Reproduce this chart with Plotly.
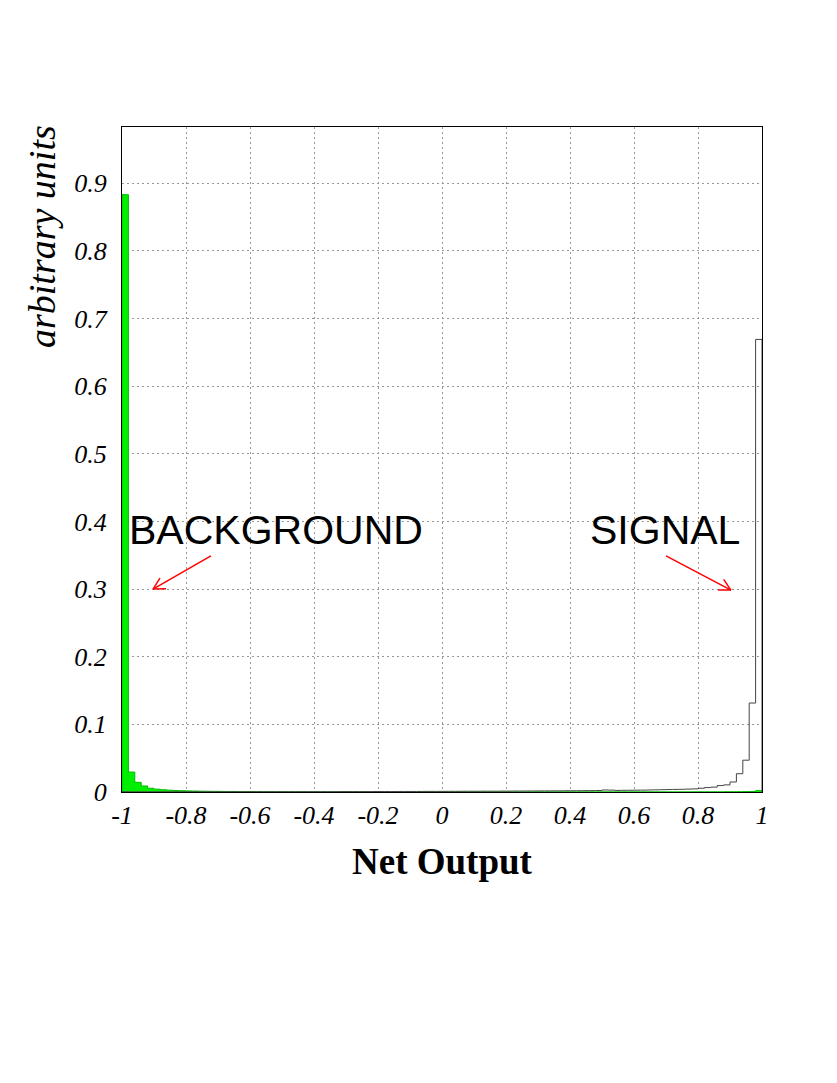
import math
import plotly.graph_objects as go

# ---- data (100 bins of width 0.02 on [-1, 1]) ----
bin_low = -1.0
bin_width = 0.02
background = [
    0.883, 0.0295, 0.0143, 0.0089, 0.0055, 0.0042, 0.0033, 0.0027, 0.0022, 0.0019,
    0.0016, 0.0014, 0.0012, 0.0011, 0.0010, 0.0009, 0.0008, 0.0008, 0.0007, 0.0007,
    0.0006, 0.0006, 0.0005, 0.0005, 0.0005, 0.0004, 0.0004, 0.0004, 0.0004, 0.0003,
    0.0003, 0.0003, 0.0003, 0.0003, 0.0003, 0.0003, 0.0002, 0.0002, 0.0002, 0.0002,
    0.0002, 0.0002, 0.0002, 0.0002, 0.0002, 0.0002, 0.0002, 0.0002, 0.0002, 0.0002,
    0.0002, 0.0002, 0.0002, 0.0002, 0.0002, 0.0002, 0.0002, 0.0002, 0.0002, 0.0002,
    0.0002, 0.0002, 0.0002, 0.0002, 0.0002, 0.0002, 0.0002, 0.0002, 0.0002, 0.0002,
    0.0002, 0.0002, 0.0002, 0.0002, 0.0002, 0.0002, 0.0002, 0.0002, 0.0002, 0.0002,
    0.0002, 0.0002, 0.0002, 0.0002, 0.0002, 0.0002, 0.0002, 0.0002, 0.0002, 0.0003,
    0.0003, 0.0003, 0.0003, 0.0003, 0.0004, 0.0004, 0.0005, 0.0006, 0.0008, 0.0020,
]
signal = [
    0.0004, 0.0003, 0.0003, 0.0003, 0.0003, 0.0003, 0.0003, 0.0003, 0.0003, 0.0003,
    0.0003, 0.0003, 0.0003, 0.0003, 0.0003, 0.0003, 0.0003, 0.0003, 0.0003, 0.0003,
    0.0004, 0.0004, 0.0004, 0.0004, 0.0004, 0.0004, 0.0004, 0.0004, 0.0005, 0.0005,
    0.0005, 0.0005, 0.0005, 0.0005, 0.0006, 0.0006, 0.0006, 0.0006, 0.0006, 0.0007,
    0.0007, 0.0007, 0.0007, 0.0008, 0.0008, 0.0008, 0.0008, 0.0009, 0.0009, 0.0009,
    0.0010, 0.0010, 0.0010, 0.0011, 0.0011, 0.0011, 0.0012, 0.0012, 0.0012, 0.0013,
    0.0013, 0.0014, 0.0014, 0.0015, 0.0015, 0.0016, 0.0016, 0.0017, 0.0017, 0.0018,
    0.0018, 0.0019, 0.0020, 0.0021, 0.0022, 0.0030, 0.0028, 0.0024, 0.0025, 0.0026,
    0.0027, 0.0028, 0.0030, 0.0032, 0.0034, 0.0036, 0.0038, 0.0040, 0.0043, 0.0046,
    0.0055, 0.0065, 0.0072, 0.0095, 0.0105, 0.0148, 0.0270, 0.0470, 0.1315, 0.6690,
]
x_tickvals = [-1, -0.8, -0.6, -0.4, -0.2, 0, 0.2, 0.4, 0.6, 0.8, 1]
x_ticktext = ["-1", "-0.8", "-0.6", "-0.4", "-0.2", "0", "0.2", "0.4", "0.6", "0.8", "1"]
y_tickvals = [0, 0.1, 0.2, 0.3, 0.4, 0.5, 0.6, 0.7, 0.8, 0.9]
y_ticktext = ["0", "0.1", "0.2", "0.3", "0.4", "0.5", "0.6", "0.7", "0.8", "0.9"]
labels = ["BACKGROUND", "SIGNAL"]

X_RANGE = [-1, 1]
Y_RANGE = [0, 0.983]

edges = [bin_low + bin_width * i for i in range(len(background) + 1)]


def step_xy(vals):
    xs = [edges[0]] + edges[:-1] + [edges[-1], edges[-1]]
    ys = [0] + list(vals) + [vals[-1], 0]
    return xs, ys


fig = go.Figure()
bx, by = step_xy(background)
fig.add_trace(go.Scatter(x=bx, y=by, mode="lines", line_shape="hv",
                         fill="tozeroy", fillcolor="#00ee00",
                         line=dict(color="#00bb00", width=1), hoverinfo="skip"))
sx, sy = step_xy(signal)
fig.add_trace(go.Scatter(x=sx, y=sy, mode="lines", line_shape="hv",
                         line=dict(color="#444444", width=1), hoverinfo="skip"))

# page body has an 8px margin, so the figure is offset by 8px
OFF = 8
W, H = 837 - OFF, 1083 - OFF
ML, MT = 122 - OFF, 127 - OFF
pw, ph = 640, 665
MR, MB = W - ML - pw, H - MT - ph
sxp = pw / (X_RANGE[1] - X_RANGE[0])
syp = ph / (Y_RANGE[1] - Y_RANGE[0])

# arrows (tail -> tip) in data coordinates
arrows = [((-0.722, 0.349), (-0.903, 0.300)), ((0.700, 0.349), (0.903, 0.2985))]
shapes = []
for (x0, y0), (x1, y1) in arrows:
    shapes.append(dict(type="line", x0=x0, y0=y0, x1=x1, y1=y1, xref="x", yref="y",
                       line=dict(color="red", width=1.5)))
    dxp, dyp = (x0 - x1) * sxp, (y0 - y1) * syp
    ang = math.atan2(dyp, dxp)
    for s in (-1, 1):
        a = ang + s * math.radians(28)
        hx = x1 + 13 * math.cos(a) / sxp
        hy = y1 + 13 * math.sin(a) / syp
        shapes.append(dict(type="line", x0=x1, y0=y1, x1=hx, y1=hy, xref="x", yref="y",
                           line=dict(color="red", width=1.5)))

label_pos = [(-0.519, 0.387), (0.698, 0.387)]
annotations = []
for txt, (lx, ly) in zip(labels, label_pos):
    annotations.append(dict(x=lx, y=ly, xref="x", yref="y", text=txt, showarrow=False,
                            font=dict(family="Liberation Sans", size=41, color="black"),
                            xanchor="center", yanchor="middle"))
annotations.append(dict(x=0.5, y=-70 / ph,
                        xref="paper", yref="paper", text="Net Output", showarrow=False,
                        font=dict(family="Liberation Serif", size=37, color="black",
                                  weight="bold"),
                        xanchor="center", yanchor="middle"))
annotations.append(dict(x=-80 / pw, y=(665 - 110) / ph, xref="paper", yref="paper",
                        text="arbitrary units", showarrow=False, textangle=-90,
                        font=dict(family="Liberation Serif", size=38, color="black",
                                  style="italic"),
                        xanchor="center", yanchor="middle"))

axis_common = dict(showgrid=True, gridcolor="#999999", griddash="2px,3px", gridwidth=1,
                   showline=True, linecolor="black", linewidth=1, mirror=True,
                   zeroline=False, ticks="",
                   tickfont=dict(family="Liberation Serif", size=26, color="black",
                                 style="italic"))
fig.update_layout(
    width=W, height=H, margin=dict(l=ML, r=MR, t=MT, b=MB, autoexpand=False),
    paper_bgcolor="white", plot_bgcolor="white", showlegend=False,
    xaxis=dict(range=X_RANGE, tickvals=x_tickvals, ticktext=x_ticktext,
               ticklabelstandoff=0, **axis_common),
    yaxis=dict(range=Y_RANGE, tickvals=y_tickvals, ticktext=y_ticktext,
               ticklabelstandoff=9, **axis_common),
    shapes=shapes, annotations=annotations,
)
fig.write_html("out.html")
